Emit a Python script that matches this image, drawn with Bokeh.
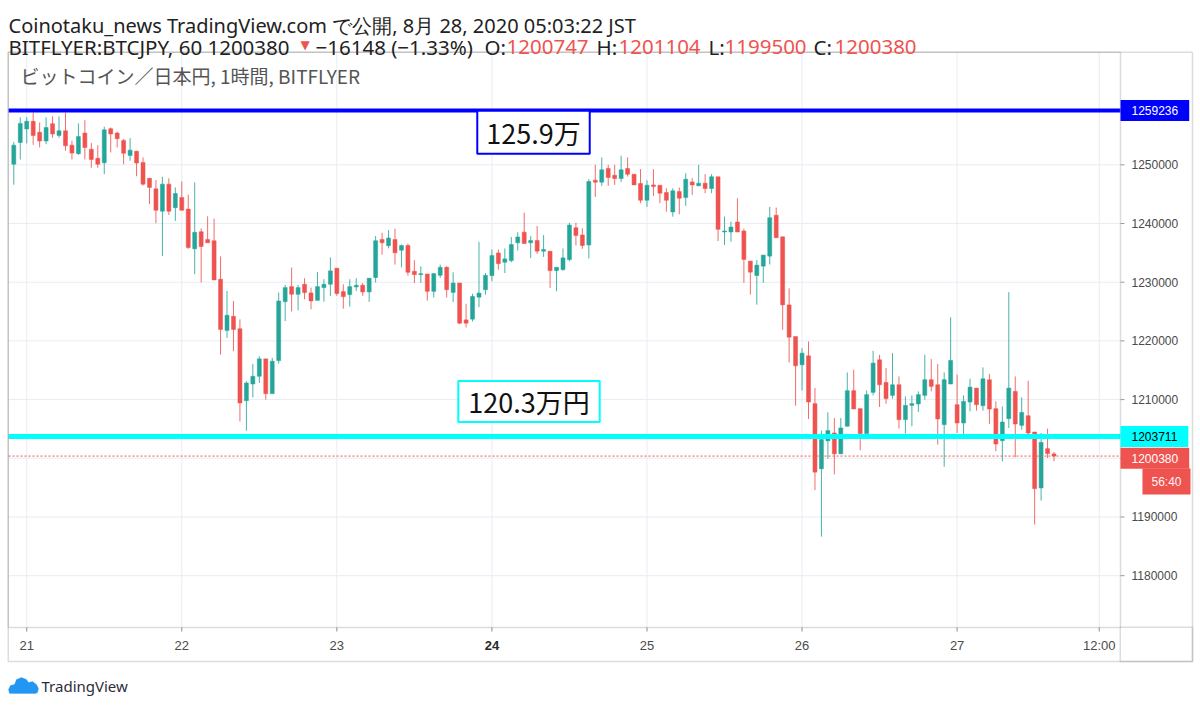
from bokeh.plotting import figure
from bokeh.models import (ColumnDataSource, Range1d, Label, BoxAnnotation, PolyAnnotation)
from bokeh.core.properties import value
from bokeh.embed import file_html
from bokeh.resources import INLINE

# ---------------- data (BTC/JPY, 1h candles, bitFlyer) ----------------
opens = [1250100,1253800,1256100,1257400,1255550,1254050,1257000,1255000,1255800,1253350,
         1251900,1255400,1252650,1251100,1250350,1256150,1255400,1254150,1251600,1252300,
         1250400,1247700,1245900,1242100,1246700,1242700,1244450,1242450,1235700,1238600,
         1237290,1237060,1230500,1221780,1224180,1222070,1209820,1212660,1213970,1216940,
         1211010,1216650,1226690,1229250,1227940,1229650,1228170,1226910,1229080,1229650,
         1232390,1228400,1227880,1229190,1229480,1228340,1230790,1237290,1236230,1237280,
         1235450,1236250,1231860,1231290,1231400,1228440,1231170,1232540,1228260,1229860,
         1223580,1223700,1227450,1228720,1231120,1234990,1233400,1233680,1236710,1238530,
         1236710,1237110,1235290,1235280,1231970,1232140,1233850,1239280,1238050,1236330,
         1247380,1247040,1249370,1248230,1247660,1249370,1248400,1246810,1243960,1246580,
         1246520,1245270,1241970,1245440,1244420,1247090,1246410,1246870,1245960,1247950,
         1238550,1238550,1240260,1238720,1233590,1231140,1232730,1234440,1241400,1237730,
         1226130,1220740,1215930,1217460,1209310,1198210,1202970,1204320,1200760,1205460,
         1211520,1208460,1204210,1211230,1216780,1212930,1210720,1212530,1206590,1209020,
         1209250,1210720,1213390,1212530,1205740,1212650,1209130,1206010,1209580,1211960,
         1208960,1213380,1208450,1203000,1206750,1211400,1205610,1207250,1204480,1194950,
         1201640,1200747]
highs = [1253900,1258100,1258100,1258900,1257200,1258100,1258250,1258250,1258900,1254100,
         1257050,1257600,1253700,1253350,1256500,1256350,1255650,1254400,1254550,1252400,
         1251250,1247700,1247400,1247950,1247700,1246150,1247150,1244900,1247000,1239170,
         1241220,1240820,1234380,1228510,1226800,1223670,1213120,1216080,1217400,1216940,
         1217110,1228230,1229530,1232500,1229530,1230680,1229080,1231760,1230510,1234210,
         1232390,1229650,1230510,1230680,1229880,1230680,1237860,1238430,1238880,1239100,
         1236420,1236590,1233740,1232710,1231400,1231570,1232990,1232710,1231690,1229860,
         1226320,1228040,1236880,1231570,1235570,1235570,1235740,1237680,1238510,1241840,
         1237850,1239560,1238020,1235280,1232540,1235740,1240130,1240130,1239200,1247550,
         1250000,1251250,1250000,1250000,1251540,1251250,1248400,1249260,1247380,1249260,
         1246520,1246010,1246010,1246130,1248570,1247720,1250000,1248400,1248400,1247950,
         1241170,1240330,1244300,1239120,1233590,1233760,1234620,1242820,1242710,1237730,
         1228960,1220740,1218760,1219900,1211970,1204720,1207830,1206870,1206870,1214630,
         1215080,1208460,1211570,1218310,1217630,1215370,1217920,1213950,1210550,1210720,
         1211400,1217630,1216890,1216040,1214630,1224030,1214230,1210720,1213550,1211960,
         1215480,1214400,1209700,1208840,1228300,1213950,1210380,1213210,1204480,1204300,
         1205050,1201104]
lows = [1246600,1250900,1253650,1253400,1252950,1253500,1254600,1254600,1252400,1250900,
        1251700,1250900,1249500,1249500,1248400,1252100,1252950,1250100,1250700,1248050,
        1246450,1243300,1240050,1234450,1241450,1240450,1242250,1235700,1231350,1229940,
        1236720,1230390,1217680,1220530,1218250,1206280,1204690,1210390,1212830,1209990,
        1211010,1216140,1223380,1225020,1225210,1227080,1225380,1226910,1226680,1227660,
        1227660,1225490,1225830,1228510,1227660,1226650,1229940,1234670,1235750,1233000,
        1232540,1231120,1229860,1229860,1226840,1227410,1230720,1227410,1226610,1222840,
        1222280,1223300,1225750,1227860,1230150,1232140,1231570,1233400,1235400,1236590,
        1234140,1234820,1234310,1229010,1228440,1231970,1233570,1236250,1235700,1234040,
        1244530,1246410,1246410,1246580,1247090,1248000,1246580,1243450,1242820,1244700,
        1243450,1242020,1241170,1241570,1242990,1244870,1246410,1245160,1245160,1237010,
        1236330,1236900,1238550,1229890,1227890,1226180,1229890,1233020,1237580,1221880,
        1216330,1208960,1211570,1206700,1194580,1186660,1199910,1197250,1200760,1205460,
        1208400,1201380,1204210,1210720,1208740,1209310,1210160,1205060,1204210,1205460,
        1207890,1209990,1211400,1202340,1198550,1212650,1204300,1204020,1208000,1208110,
        1208110,1205840,1201190,1199480,1205160,1200170,1204870,1203460,1188710,1192790,
        1200060,1199500]
closes = [1253350,1257050,1257400,1255000,1254050,1256350,1255250,1255800,1253250,1252000,
          1254800,1252950,1250900,1250100,1255950,1255250,1254450,1251950,1252500,1250300,
          1246700,1246150,1242250,1246700,1242100,1245100,1242250,1235900,1238500,1236100,
          1236720,1230390,1221960,1224350,1221960,1209420,1212830,1213970,1216940,1211010,
          1216540,1226800,1229080,1227940,1229080,1228230,1226800,1229250,1229650,1231930,
          1228060,1227540,1229250,1229480,1228340,1230680,1237060,1236720,1237520,1235000,
          1236250,1231690,1231290,1231460,1228440,1231460,1232540,1228720,1229860,1223020,
          1223020,1227580,1228150,1231170,1234540,1233170,1233970,1236420,1237710,1236590,
          1237110,1235290,1235570,1231970,1232540,1234140,1239730,1237960,1236260,1247150,
          1247040,1249150,1247840,1247660,1249150,1248400,1246580,1243960,1246520,1246300,
          1245160,1243960,1245560,1244300,1247550,1246580,1246870,1245960,1247950,1239000,
          1238720,1239400,1238550,1233870,1231710,1232910,1234620,1241000,1237580,1226130,
          1220630,1215760,1217910,1209590,1197640,1203190,1204720,1200760,1205170,1211520,
          1208400,1204210,1210840,1216220,1212530,1210160,1212530,1206590,1209020,1209310,
          1210840,1213390,1212250,1206700,1213390,1216670,1206010,1209700,1212130,1209130,
          1213550,1208390,1202430,1206180,1211960,1205840,1207820,1204300,1194830,1202720,
          1200790,1200380]
hours = list(range(len(opens)))          # candle slot (1 hour each)

day_ticks = [2, 26, 50, 74, 98, 122, 146, 168]
day_labels = ["21", "22", "23", "24", "25", "26", "27", "12:00"]
bold_day = "24"
price_ticks = [1180000, 1190000, 1200000, 1210000, 1220000, 1230000, 1240000, 1250000]

resistance = 1259236
support = 1203711
last_price = 1200380
resistance_text = "125.9万"
support_text = "120.3万円"
countdown = "56:40"

UP = "#26a69a"
DOWN = "#ef5350"
GRID = "#e7edf3"
FRAME = "#8a8a8a"

# ---------------- layout helpers (page pixel -> data coordinate) ----------------
W, H = 1196, 700
PX0, PXSTEP = 13.3, 6.461                 # x of first candle, px per hour
PY_REF, PRICE_REF, PRICE_PER_PX = 164.3, 1250000, 170.36


def xi(px):
    return (px - PX0) / PXSTEP


def yp(py):
    return PRICE_REF + (PY_REF - py) * PRICE_PER_PX


def fy(py):                                # page y -> screen units (from bottom)
    return H - py


PANE_L, PANE_R, PANE_T, PANE_B = 8, 1120, 52, 627
OUTER_R, OUTER_B = 1192, 661

colors = [UP if c >= o else DOWN for o, c in zip(opens, closes)]
src = ColumnDataSource(dict(
    x=hours, high=highs, low=lows,
    top=[max(o, c) for o, c in zip(opens, closes)],
    bottom=[min(o, c) for o, c in zip(opens, closes)],
    color=colors))

# ---------------- figure (frame covers the whole widget) ----------------
p = figure(width=W, height=H,
           x_range=Range1d(xi(0), xi(W)), y_range=Range1d(yp(H), yp(0)),
           x_axis_location=None, y_axis_location=None,
           toolbar_location=None, output_backend="svg",
           min_border_left=0, min_border_right=0, min_border_top=0, min_border_bottom=0)
p.background_fill_color = "white"
p.border_fill_color = "white"
p.outline_line_color = None
p.xgrid.visible = False
p.ygrid.visible = False

# grid lines (limited to the price pane)
p.segment(x0=day_ticks, x1=day_ticks, y0=[yp(PANE_T)] * len(day_ticks),
          y1=[yp(PANE_B)] * len(day_ticks), line_color=GRID, line_width=1)
p.segment(x0=[xi(PANE_L)] * len(price_ticks), x1=[xi(PANE_R)] * len(price_ticks),
          y0=price_ticks, y1=price_ticks, line_color=GRID, line_width=1)

# time scale: ticks + labels
p.segment(x0=day_ticks, x1=day_ticks, y0=[yp(PANE_B)] * len(day_ticks),
          y1=[yp(PANE_B + 4)] * len(day_ticks), line_color=FRAME, line_width=1)
norm_x = [t for t, l in zip(day_ticks, day_labels) if l != bold_day]
norm_l = [l for l in day_labels if l != bold_day]
bold_x = [t for t, l in zip(day_ticks, day_labels) if l == bold_day]
p.text(x=norm_x, y=[yp(645)] * len(norm_x), text=norm_l, text_align="center",
       text_baseline="middle", text_font=value("Liberation Sans"), text_font_size="13px",
       text_color="#4a4a4a")
p.text(x=bold_x, y=[yp(645)] * len(bold_x), text=[bold_day], text_align="center",
       text_baseline="middle", text_font=value("Liberation Sans"), text_font_size="13px",
       text_font_style="bold", text_color="#2a2a2a")

# price scale: ticks + labels
p.segment(x0=[xi(PANE_R)] * len(price_ticks), x1=[xi(PANE_R + 4)] * len(price_ticks),
          y0=price_ticks, y1=price_ticks, line_color="#9a9a9a", line_width=1)
p.text(x=[xi(1131)] * len(price_ticks), y=price_ticks, text=[str(v) for v in price_ticks],
       text_align="left", text_baseline="middle", text_font=value("Liberation Sans"),
       text_font_size="12px", text_color="#4a4a4a")

# candles
p.segment(x0="x", y0="low", x1="x", y1="high", line_color="color", line_width=1,
          line_alpha=0.85, source=src)
p.vbar(x="x", width=0.62, top="top", bottom="bottom", fill_color="color",
       line_color="color", line_width=0.5, source=src)

# horizontal levels (pane width)
p.segment(x0=[xi(PANE_L)], x1=[xi(PANE_R)], y0=[resistance], y1=[resistance],
          line_color="#0000ff", line_width=4)
p.segment(x0=[xi(PANE_L)], x1=[xi(PANE_R)], y0=[support], y1=[support],
          line_color="#00ffff", line_width=5)
p.segment(x0=[xi(PANE_L)], x1=[xi(PANE_R)], y0=[last_price], y1=[last_price],
          line_color=DOWN, line_width=1, line_dash="2 2")

# frame lines
for l, r, t, b in [(PANE_L, PANE_R, PANE_T, PANE_B),
                   (PANE_L, OUTER_R, PANE_T, OUTER_B),
                   (PANE_R, OUTER_R, PANE_B, OUTER_B)]:
    p.add_layout(BoxAnnotation(left=l - 0.25, right=r, top=fy(t - 0.25), bottom=fy(b),
                               left_units="screen", right_units="screen",
                               top_units="screen", bottom_units="screen",
                               fill_alpha=0, line_color=FRAME, line_width=1.5))


# price-scale tags
def tag(y, y_units, text, bg, fg):
    p.add_layout(Label(x=PANE_R, y=y, x_units="screen", y_units=y_units, text=text,
                       text_align="left", text_baseline="middle", text_font="Liberation Sans",
                       text_font_size="12px", text_color=fg, background_fill_color=bg,
                       padding=(11, 6)))


tag(resistance, "data", str(resistance), "#0000ff", "white")
tag(support, "data", str(support), "#00ffff", "black")
tag(fy(457.8), "screen", str(last_price), DOWN, "white")
p.add_layout(Label(x=1190, y=fy(481), x_units="screen", y_units="screen", text=countdown,
                   text_align="right", text_baseline="middle", text_font="Liberation Sans",
                   text_font_size="12px", text_color="#fff2f2", background_fill_color=DOWN,
                   padding=(9, 6)))

# annotation boxes
p.add_layout(Label(x=533, y=fy(131.7), x_units="screen", y_units="screen", text=resistance_text,
                   text_align="center", text_baseline="middle", text_font="Noto Sans CJK JP",
                   text_font_size="27px", text_color="#111111", background_fill_color="white",
                   border_line_color="#0000ff", border_line_width=2, padding=(9, 2)))
p.add_layout(Label(x=528.5, y=fy(401), x_units="screen", y_units="screen", text=support_text,
                   text_align="center", text_baseline="middle", text_font="Noto Sans CJK JP",
                   text_font_size="27px", text_color="#111111", background_fill_color="white",
                   border_line_color="#00ffff", border_line_width=2, padding=(10, 1)))

# legend title inside the pane
p.add_layout(Label(x=20, y=fy(75), x_units="screen", y_units="screen",
                   text="ビットコイン／日本円, 1時間, BITFLYER", text_align="left",
                   text_baseline="middle", text_font="Noto Sans CJK JP", text_font_size="19px",
                   text_color="#555555"))

# header
DARK = "#222222"


def head(x, y, text, color=DARK, font="Noto Sans", size="20.5px"):
    p.add_layout(Label(x=x, y=fy(y), x_units="screen", y_units="screen", text=text,
                       text_align="left", text_baseline="alphabetic", text_font=font,
                       text_font_size=size, text_color=color))


head(8, 25, "Coinotaku_news TradingView.com で公開, 8月 28, 2020 05:03:22 JST", size="20px")
head(8, 46, "BITFLYER:BTCJPY, 60 1200380")
head(300, 44, "▼", DOWN, "DejaVu Sans", "12px")
head(315, 46, "−16148 (−1.33%)")
head(484, 46, "O:")
head(506, 46, "1200747", DOWN)
head(596, 46, "H:")
head(618, 46, "1201104", DOWN)
head(708, 46, "L:")
head(724, 46, "1199500", DOWN)
head(813, 46, "C:")
head(834, 46, "1200380", DOWN)

# TradingView logo
cloud_px = [9, 8, 10, 14, 16, 21, 26, 28, 32, 36, 38, 37, 35]
cloud_py = [693, 689, 685, 684, 679, 677, 679, 682, 681, 684, 688, 692, 693]
p.add_layout(PolyAnnotation(xs=cloud_px, ys=[fy(v) for v in cloud_py],
                            xs_units="screen", ys_units="screen",
                            fill_color="#2196f3", fill_alpha=1, line_color="#2196f3"))
p.add_layout(Label(x=41, y=fy(685), x_units="screen", y_units="screen", text="TradingView",
                   text_align="left", text_baseline="middle", text_font="Noto Sans",
                   text_font_size="15px", text_color="#2a2e39"))

open("out.html", "w").write(file_html(p, INLINE))
